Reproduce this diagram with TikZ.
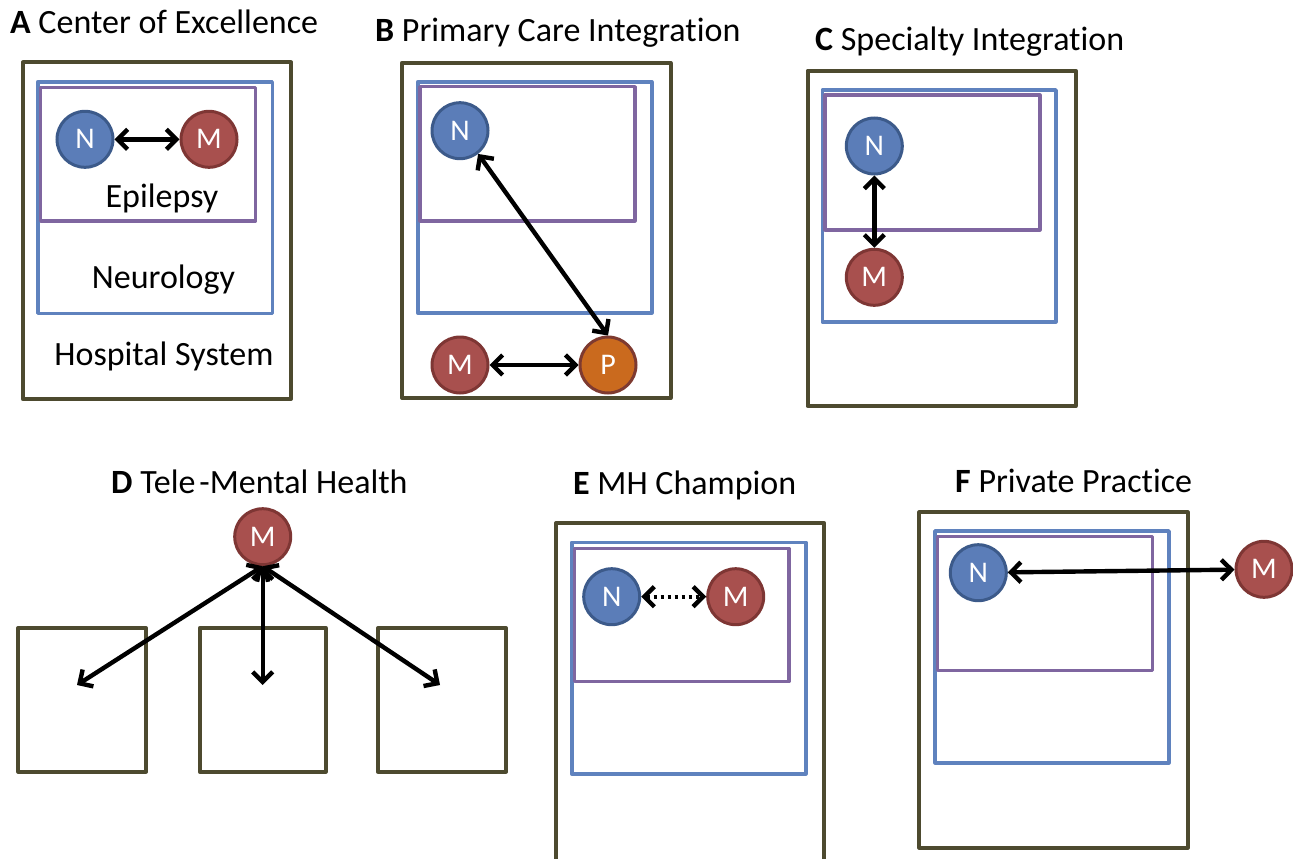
\documentclass[tikz,border=0pt]{standalone}
\usepackage{fontspec}
\setmainfont{Carlito}[Ligatures=NoCommon]
\usetikzlibrary{arrows.meta}
\definecolor{hospc}{HTML}{4D4A2F}
\definecolor{deptc}{HTML}{5F82BE}
\definecolor{subc}{HTML}{7F66A0}
\definecolor{nfill}{HTML}{5B7DB8}
\definecolor{nborder}{HTML}{3C5A8A}
\definecolor{mfill}{HTML}{A8504E}
\definecolor{mborder}{HTML}{7E3634}
\definecolor{pfill}{HTML}{CA6A1E}
\definecolor{pborder}{HTML}{7E3A30}
\begin{document}
\begin{tikzpicture}[x=1pt,y=-1pt,
  >={Straight Barb[length=10pt,width=20pt]},
  hosp/.style={draw=hospc,line width=4pt,line join=round},
  dept/.style={draw=deptc,line width=3.6pt,line join=round},
  sub/.style={draw=subc,line width=3.2pt,line join=round},
  circ/.style={circle,line width=3pt,minimum size=56pt,inner sep=0pt,text=white,font=\fontsize{30}{32}\selectfont},
  nn/.style={circ,fill=nfill,draw=nborder},
  mm/.style={circ,fill=mfill,draw=mborder},
  pp/.style={circ,fill=pfill,draw=pborder},
  conn/.style={<->,line width=4.4pt,black},
  dconn/.style={<->,line width=4.4pt,black,dash pattern=on 3.5pt off 3.5pt},
  title/.style={anchor=base west,font=\fontsize{34}{40}\selectfont,inner sep=0pt},
  lbl/.style={anchor=base,font=\fontsize{34}{40}\selectfont,inner sep=0pt}]
\useasboundingbox (0,0) rectangle (1293,859);

% ---------- Panel A ----------
\node[title] (tA) at (10,34) {\textbf{A} Center of Excellence};
\draw[hosp] (22.7,62.5) rectangle (291,399);
\draw[dept] (37.7,81.7) rectangle (272.3,313.3);
\draw[sub] (40.7,87.3) rectangle (255.7,221);
\node[nn] (nA) at (85,139.3) {N};
\node[mm] (mA) at (209,139.3) {M};
\draw[conn] (nA) -- (mA);
\node[lbl] (epi) at (162,207) {Epilepsy};
\node[lbl] (neu) at (163.5,288) {Neurology};
\node[lbl] (hos) at (164,365) {Hospital System};

% ---------- Panel B ----------
\node[title] (tB) at (375,42) {\textbf{B} Primary Care Integration};
\draw[hosp] (402,62.7) rectangle (670.5,398);
\draw[dept] (417.7,81.7) rectangle (651.7,313);
\draw[sub] (420,86.7) rectangle (635,221);
\node[nn] (nB) at (460,130.7) {N};
\node[mm] (mB) at (460,365) {M};
\node[pp] (pB) at (608,365) {P};
\draw[conn] (nB.-52) -- (pB.north);
\draw[conn] (mB) -- (pB);

% ---------- Panel C ----------
\node[title] (tC) at (815,51) {\textbf{C} Specialty Integration};
\draw[hosp] (807.5,70.7) rectangle (1075.7,406);
\draw[dept] (822.3,90) rectangle (1056,321.7);
\draw[sub] (825,95) rectangle (1040,230);
\node[nn] (nC) at (874.3,146) {N};
\node[mm] (mC) at (874.3,277.3) {M};
\draw[conn] (nC) -- (mC);

% ---------- Panel D ----------
\node[title] (tD) at (111,493) {\textbf{D} Tele\hspace{4pt}-Mental Health};
\node[mm] (mD) at (262.7,536.7) {M};
\draw[hosp] (18.3,628) rectangle (146,771.7);
\draw[hosp] (199.7,628) rectangle (325.7,771.7);
\draw[hosp] (378,628) rectangle (506,771.7);
\coordinate (d1) at (77,685);
\coordinate (d2) at (262.7,685);
\coordinate (d3) at (440,685);
\draw[conn] (mD.south) -- (d1);
\draw[conn] (mD.south) -- (d2);
\draw[conn] (mD.south) -- (d3);

% ---------- Panel E ----------
\node[title] (tE) at (573,494) {\textbf{E} MH Champion};
\draw[hosp] (556,523.3) rectangle (824.3,862);
\draw[dept] (571.7,542.3) rectangle (805.7,774);
\draw[sub] (574.3,548.3) rectangle (789,681.7);
\node[nn] (nE) at (611.7,596.7) {N};
\node[mm] (mE) at (735.7,596.7) {M};
\draw[dconn] (nE) -- (mE);

% ---------- Panel F ----------
\node[title] (tF) at (955,492) {\textbf{F} Private Practice};
\draw[hosp] (919.3,512.3) rectangle (1187.7,847.7);
\draw[dept] (935,531) rectangle (1169,762.7);
\draw[sub] (937.7,536.7) rectangle (1152.3,670.7);
\node[nn] (nF) at (978.3,572.7) {N};
\node[mm] (mF) at (1264,569.3) {M};
\draw[conn] (nF) -- (mF);
\end{tikzpicture}
\end{document}
